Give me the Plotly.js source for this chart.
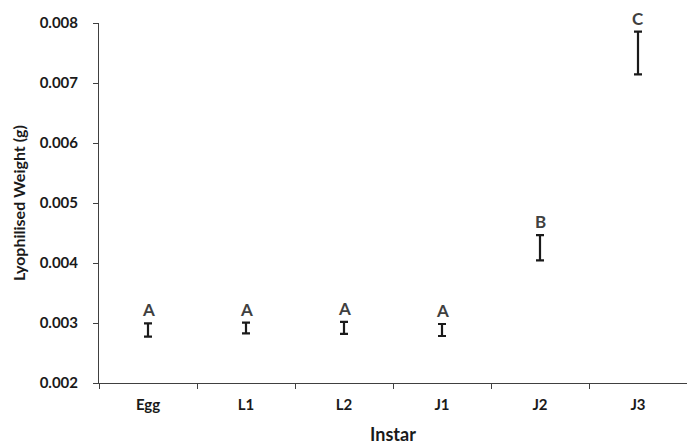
<!DOCTYPE html>
<html>
<head>
<meta charset="utf-8">
<script src="https://cdn.plot.ly/plotly-3.0.1.min.js"></script>
<style>html,body{margin:0;padding:0;background:#fff;}#chart{width:687px;height:445px;}</style>
</head>
<body>
<div id="chart"></div>
<script>
const categories = ['Egg', 'L1', 'L2', 'J1', 'J2', 'J3'];
const meanWeight = [0.002883, 0.002917, 0.00292, 0.002883, 0.004253, 0.0075];
const errWeight = [0.00011, 0.00009, 0.0001, 0.0001, 0.00021, 0.000355];
const groupLetters = ['A', 'A', 'A', 'A', 'B', 'C'];
const yTicks = [0.002, 0.003, 0.004, 0.005, 0.006, 0.007, 0.008];

const FONT = 'Lato, "Open Sans", sans-serif';

const trace = {
  x: categories,
  y: meanWeight,
  type: 'scatter',
  mode: 'markers',
  marker: {size: 1, color: 'rgba(0,0,0,0)'},
  error_y: {type: 'data', array: errWeight, visible: true, color: '#1a1a1a', thickness: 2.2, width: 4},
  hoverinfo: 'skip',
  showlegend: false
};

const annotations = categories.map((c, i) => ({
  x: c,
  y: meanWeight[i] + errWeight[i],
  xref: 'x', yref: 'y',
  text: '<b>' + groupLetters[i] + '</b>',
  showarrow: false,
  yanchor: 'bottom',
  yshift: 1,
  font: {family: FONT, size: 17, color: '#404040'}
}));

const layout = {
  width: 687, height: 445,
  margin: {l: 99, r: 0, t: 23, b: 62},
  paper_bgcolor: '#fff', plot_bgcolor: '#fff',
  showlegend: false,
  xaxis: {
    type: 'category',
    range: [-0.5, 5.5],
    tickson: 'boundaries',
    ticks: 'outside', ticklen: 5, tickcolor: '#404040', tickwidth: 1,
    ticklabelstandoff: 8,
    showline: true, linecolor: '#404040', linewidth: 1,
    showgrid: false, zeroline: false,
    tickfont: {family: FONT, size: 15, color: '#1a1a1a', weight: 'bold'},
    title: {text: '<b>Instar</b>', font: {family: FONT, size: 18, color: '#1a1a1a'}, standoff: 18}
  },
  yaxis: {
    range: [0.002, 0.008],
    tickvals: yTicks,
    ticktext: yTicks.map(v => '<b>' + v.toFixed(3) + '</b>'),
    ticks: 'outside', ticklen: 5, tickcolor: '#404040', tickwidth: 1,
    ticklabelstandoff: 12,
    showline: true, linecolor: '#404040', linewidth: 1,
    showgrid: false, zeroline: false,
    tickfont: {family: FONT, size: 15, color: '#1a1a1a'},
    title: {text: '<b>Lyophilised Weight (g)</b>', font: {family: FONT, size: 16, color: '#1a1a1a'}, standoff: 10}
  },
  annotations: annotations
};

Plotly.newPlot('chart', [trace], layout, {displayModeBar: false, staticPlot: true});
</script>
</body>
</html>
